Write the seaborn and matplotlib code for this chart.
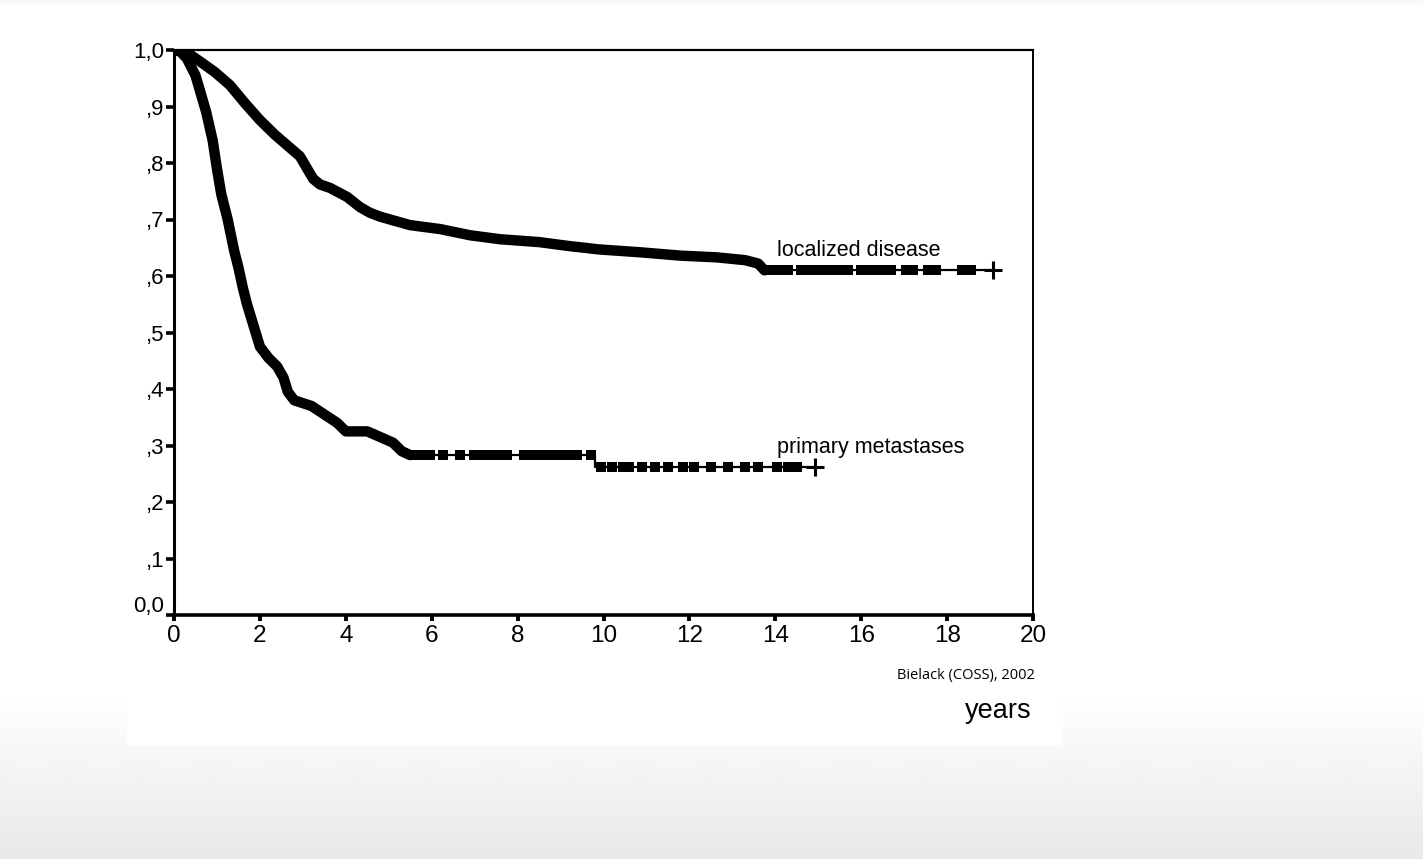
import numpy as np
import pandas as pd
import matplotlib
matplotlib.use("Agg")
import matplotlib.pyplot as plt
import matplotlib.transforms as mtransforms
import seaborn as sns

sns.set_theme(style="white")
plt.rcParams['font.family'] = ['Liberation Sans', 'DejaVu Sans']

# ---- data ----
loc_time = [0.0, 0.2, 0.37, 0.6, 0.95, 1.3, 1.65, 2.0, 2.35, 2.7, 2.93, 3.1, 3.24, 3.4, 3.63,
            4.03, 4.33, 4.56, 4.8, 5.03, 5.5, 6.2, 6.9, 7.6, 8.5, 9.2, 9.9, 10.85, 11.8,
            12.64, 13.3, 13.6, 13.75, 19.07]
loc_surv = [1.0, 0.998, 0.992, 0.980, 0.961, 0.938, 0.906, 0.876, 0.850, 0.827, 0.812, 0.790,
            0.772, 0.762, 0.756, 0.740, 0.722, 0.712, 0.705, 0.700, 0.690, 0.683, 0.672, 0.665,
            0.660, 0.653, 0.647, 0.642, 0.636, 0.633, 0.628, 0.622, 0.610, 0.610]
loc_dense_end = 13.75
loc_censor = [13.85, 14.0, 14.15, 14.3, 14.6, 14.75, 14.9, 15.05, 15.2, 15.35, 15.5, 15.7,
              16.0, 16.15, 16.3, 16.5, 16.7, 17.05, 17.2, 17.55, 17.75, 18.35, 18.55]
loc_last = 19.07

met_time = [0.0, 0.15, 0.3, 0.5, 0.75, 0.9, 1.0, 1.1, 1.25, 1.4, 1.5, 1.6, 1.7, 1.82, 2.0,
            2.2, 2.4, 2.55, 2.65, 2.8, 3.2, 3.5, 3.8, 4.0, 4.5, 4.8, 5.1, 5.3, 5.5, 9.8, 14.92]
met_surv = [1.0, 0.997, 0.985, 0.955, 0.890, 0.840, 0.790, 0.745, 0.700, 0.645, 0.615, 0.580,
            0.550, 0.520, 0.475, 0.455, 0.440, 0.420, 0.395, 0.380, 0.370, 0.355, 0.340, 0.325,
            0.325, 0.315, 0.305, 0.290, 0.283, 0.262, 0.262]
met_dense_end = 5.5
met_censor = [5.6, 5.8, 5.95, 6.26, 6.66, 6.98, 7.15, 7.35, 7.55, 7.75, 8.15, 8.3, 8.5, 8.68,
              8.85, 9.05, 9.2, 9.38, 9.72, 9.95, 10.2, 10.45, 10.6, 10.9, 11.2, 11.5, 11.85,
              12.1, 12.5, 12.9, 13.3, 13.6, 14.05, 14.3, 14.5]
met_last = 14.92

x_ticks = [0, 2, 4, 6, 8, 10, 12, 14, 16, 18, 20]
y_ticks = [0.0, 0.1, 0.2, 0.3, 0.4, 0.5, 0.6, 0.7, 0.8, 0.9, 1.0]
y_tick_labels = ["0,0", ",1", ",2", ",3", ",4", ",5", ",6", ",7", ",8", ",9", "1,0"]
curve_labels = ["localized disease", "primary metastases"]
source_text = "Bielack (COSS), 2002"
x_label = "years"


def step_value(times, surv, t):
    idx = np.searchsorted(np.asarray(times), t, side='right') - 1
    return np.asarray(surv)[idx]


W, H = 1423, 859
fig = plt.figure(figsize=(W / 100, H / 100), dpi=100)

# slide background with gradient
bg = fig.add_axes([0, 0, 1, 1], zorder=-10)
rows = np.arange(H)
g = np.where(rows > 690, 1.0 - (rows - 690) / (H - 690) * 0.09, 1.0)
g = np.where(rows < 6, 0.965 + rows * 0.006, g)
bg.imshow(np.repeat(g[:, None], 10, axis=1), cmap='gray', vmin=0, vmax=1,
          aspect='auto', extent=[0, W, H, 0], interpolation='bilinear')
bg.add_patch(plt.Rectangle((127, 5), 936, 740, color='white', lw=0))
bg.set_xlim(0, W)
bg.set_ylim(H, 0)
bg.axis('off')

ax = fig.add_axes([174 / W, 1 - 615 / H, (1033 - 174) / W, (615 - 50) / H])
ax.set_facecolor('white')

for times, surv, dense_end, cens, last in [
        (loc_time, loc_surv, loc_dense_end, loc_censor, loc_last),
        (met_time, met_surv, met_dense_end, met_censor, met_last)]:
    df = pd.DataFrame({'t': times, 's': surv})
    tail = df[df['t'] >= dense_end - 1e-9]
    sns.lineplot(data=tail, x='t', y='s', ax=ax, color='black', lw=1.6,
                 drawstyle='steps-post', estimator=None, sort=False)
    dense = df[df['t'] <= dense_end + 1e-9]
    sns.lineplot(data=dense, x='t', y='s', ax=ax, color='black', lw=7.5,
                 estimator=None, sort=False,
                 solid_capstyle='round', solid_joinstyle='round')
    cdf = pd.DataFrame({'t': cens, 's': step_value(times, surv, cens)})
    sns.scatterplot(data=cdf, x='t', y='s', ax=ax, color='black', marker='s',
                    s=42, linewidth=0)
    ldf = pd.DataFrame({'t': [last], 's': step_value(times, surv, [last])})
    sns.scatterplot(data=ldf, x='t', y='s', ax=ax, color='black', marker='+',
                    s=160, linewidth=2.2)

ax.text(14.04, 0.646, curve_labels[0], fontsize=15.5, va='center', ha='left', color='black')
ax.text(14.04, 0.297, curve_labels[1], fontsize=15.5, va='center', ha='left', color='black')

ax.set_xlim(0, 20)
ax.set_ylim(0, 1.0)
ax.set_xticks(x_ticks)
ax.set_xticklabels([str(v) for v in x_ticks])
ax.set_yticks(y_ticks)
ax.set_yticklabels(y_tick_labels)
ax.set_xlabel('')
ax.set_ylabel('')
ax.tick_params(axis='y', direction='out', length=6, width=2.6, color='black',
               labelcolor='black', labelsize=16, pad=1, left=True)
ax.tick_params(axis='x', direction='out', length=4.5, width=2.8, color='black',
               labelcolor='black', labelsize=17.5, pad=3, bottom=True)
for side, lw in [('left', 2.2), ('bottom', 2.6), ('top', 1.6), ('right', 1.4)]:
    ax.spines[side].set_visible(True)
    ax.spines[side].set_color('black')
    ax.spines[side].set_linewidth(lw)

# "0,0" sits slightly above its tick in the original
lab0 = ax.get_yticklabels()[0]
lab0.set_transform(lab0.get_transform() +
                   mtransforms.ScaledTranslation(0, 11 / 100, fig.dpi_scale_trans))

fig.text(1035 / W, 1 - 675 / H, source_text, fontsize=10.5, ha='right', va='center',
         family=['Open Sans', 'DejaVu Sans'], color='black')
fig.text(1032 / W, 1 - 711 / H, x_label, fontsize=19.5, ha='right', va='center', color='black')

fig.savefig('out.png', dpi=100)
